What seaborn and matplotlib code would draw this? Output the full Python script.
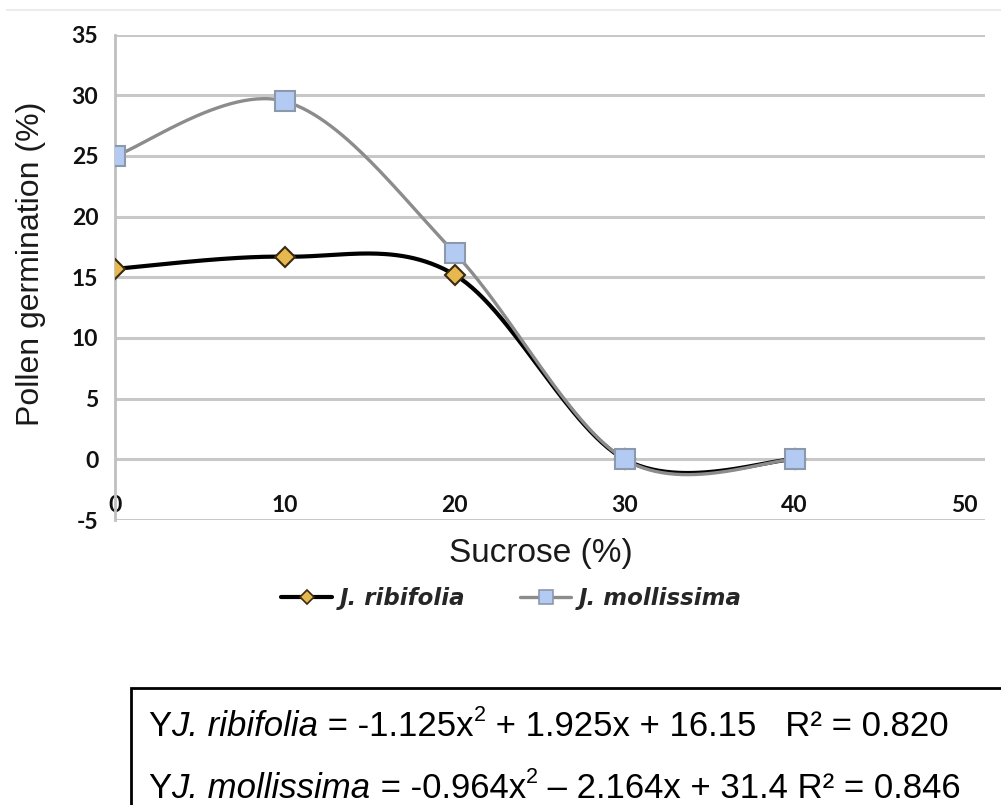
import numpy as np
import pandas as pd
import seaborn as sns
import matplotlib.pyplot as plt
from matplotlib.lines import Line2D
from matplotlib.patches import Rectangle

sucrose = [0, 10, 20, 30, 40]
ribifolia = [15.7, 16.7, 15.2, 0.0, 0.0]
mollissima = [25.0, 29.5, 17.0, 0.0, 0.0]
species = ["J. ribifolia", "J. mollissima"]
yticks = [-5, 0, 5, 10, 15, 20, 25, 30, 35]
xticks = [0, 10, 20, 30, 40, 50]

# equation lines: (text, style) pieces, "sup" = superscript
eq_rib = [("Y", "normal"), ("J. ribifolia", "italic"), (" = -1.125x", "normal"), ("2", "sup"),
          (" + 1.925x + 16.15   R² = 0.820", "normal")]
eq_mol = [("Y", "normal"), ("J. mollissima", "italic"), (" = -0.964x", "normal"), ("2", "sup"),
          (" – 2.164x + 31.4 R² = 0.846", "normal")]


def smooth(xs, ys, n=60):
    # excel style smoothed line: cubic bezier, tangent (p[i+1]-p[i-1])/6
    p = np.column_stack([xs, ys]).astype(float)
    out = []
    t = np.linspace(0, 1, n)[:, None]
    for i in range(len(p) - 1):
        prev = p[i - 1] if i > 0 else p[i]
        nxt = p[i + 2] if i + 2 < len(p) else p[i + 1]
        c1 = p[i] + (p[i + 1] - prev) / 6
        c2 = p[i + 1] - (nxt - p[i]) / 6
        seg = ((1 - t) ** 3) * p[i] + 3 * ((1 - t) ** 2) * t * c1 \
            + 3 * (1 - t) * t ** 2 * c2 + t ** 3 * p[i + 1]
        out.append(seg if i == 0 else seg[1:])
    seg = np.vstack(out)
    return seg[:, 0], seg[:, 1]


def text_chain(fig, x, y, pieces, size):
    rend = fig.canvas.get_renderer()
    inv = fig.transFigure.inverted()
    for txt, style in pieces:
        if style == "sup":
            t = fig.text(x, y + 0.019, txt, fontsize=size * 0.62, va="baseline", color="black")
        else:
            t = fig.text(x, y, txt, fontsize=size, va="baseline", color="black",
                         style=style)
        bb = t.get_window_extent(rend)
        x = inv.transform((bb.x1, bb.y0))[0]


sns.set_theme(style="white")
plt.rcParams['font.family'] = ['Liberation Sans', 'DejaVu Sans']
plt.rcParams['axes.unicode_minus'] = False

fig = plt.figure(figsize=(10.01, 8.05), dpi=100)
ax = fig.add_axes([0.1149, 0.354, 0.869, 0.603])

styles = {
    "J. ribifolia": dict(color="black", lw=3.0, marker="D", mfc="#e8b850", mec="#3a2a10", ms=10),
    "J. mollissima": dict(color="#8c8c8c", lw=2.4, marker="s", mfc="#b3cbf3", mec="#8c98ac", ms=14),
}

rows = []
for name, ys in zip(species, [ribifolia, mollissima]):
    for x, y in zip(sucrose, ys):
        rows.append({"Sucrose": x, "Germination": y, "Species": name})
df = pd.DataFrame(rows)

for name in species:
    d = df[df["Species"] == name]
    sx, sy = smooth(d["Sucrose"].values, d["Germination"].values)
    st = styles[name]
    sns.lineplot(x=sx, y=sy, ax=ax, color=st["color"], lw=st["lw"],
                 sort=False, estimator=None, zorder=3)

for name in species:
    d = df[df["Species"] == name]
    st = styles[name]
    ax.plot(d["Sucrose"], d["Germination"], ls="none", marker=st["marker"],
            ms=st["ms"], mfc=st["mfc"], mec=st["mec"], mew=1.5, zorder=4)

ax.set_xlim(0, 51.2)
ax.set_ylim(-5, 35)
ax.set_yticks(yticks)
ax.set_xticks(xticks)
ax.grid(axis="y", color="#c8c8c8", lw=2.2)
ax.grid(axis="x", visible=False)
for s in ["top", "right", "bottom"]:
    ax.spines[s].set_visible(False)
ax.spines["left"].set_color("#c0c0c0")
ax.spines["left"].set_linewidth(2)
ax.tick_params(axis="both", length=0)
ax.tick_params(axis="x", pad=-18)
ax.tick_params(axis="y", pad=12)
for lab in ax.get_xticklabels() + ax.get_yticklabels():
    lab.set_fontfamily(["Lato", "DejaVu Sans"])
    lab.set_fontweight("bold")
    lab.set_fontsize(16.5)
    lab.set_color("#111111")

ax.set_ylabel("Pollen germination (%)", fontsize=23, color="#1a1a1a")
ax.yaxis.set_label_coords(-0.079, 0.528)
ax.set_xlabel("Sucrose (%)", fontsize=24, color="#1a1a1a")
ax.xaxis.set_label_coords(0.489, -0.037)

handles = []
for name in species:
    st = styles[name]
    handles.append(Line2D([], [], color=st["color"], lw=st["lw"], marker=st["marker"],
                          ms=st["ms"] * 0.7, mfc=st["mfc"], mec=st["mec"], mew=1.2))
leg = fig.legend(handles, species, loc="center", bbox_to_anchor=(0.511, 0.257), ncol=2,
                 frameon=False, handlelength=2.2, handletextpad=0.35, columnspacing=2.4,
                 prop={"family": ["DejaVu Sans"], "weight": "bold",
                       "style": "oblique", "size": 16.5})

# faint line at top of the picture
fig.add_artist(Line2D([0.007, 1.0], [0.987, 0.987], color="#ececec", lw=1.5))

# equation box
fig.add_artist(Rectangle((0.131, -0.01), 0.9, 0.155, transform=fig.transFigure,
                         fill=False, edgecolor="black", lw=2))
text_chain(fig, 0.148, 0.0855, eq_rib, 25)
text_chain(fig, 0.148, 0.0085, eq_mol, 25)

fig.savefig("out.png", dpi=100)
